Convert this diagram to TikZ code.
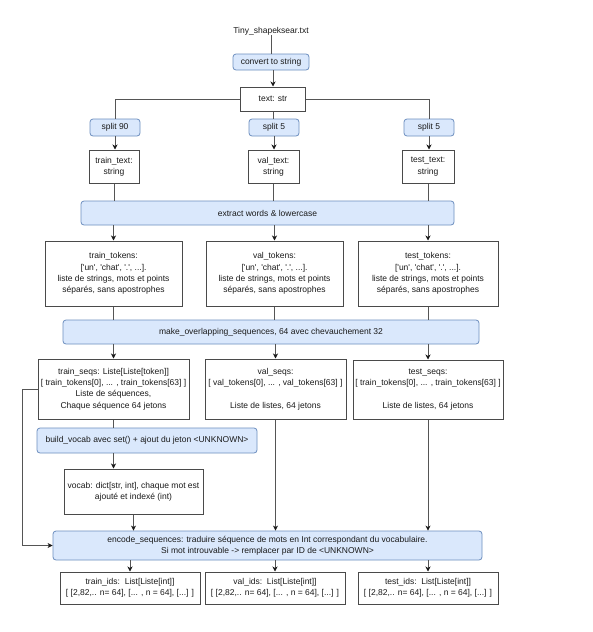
\documentclass[tikz,border=0pt]{standalone}
\usepackage{fontspec}
\setmainfont{Liberation Sans}[Ligatures=TeXOff]
\usetikzlibrary{arrows.meta}
\definecolor{bfill}{HTML}{DAE8FC}
\definecolor{bline}{HTML}{6C8EBF}
\definecolor{dline}{HTML}{4A4A4A}
\definecolor{cline}{HTML}{555555}
\definecolor{tcol}{HTML}{1A1A1A}
\begin{document}
\begin{tikzpicture}[x=1pt,y=-1pt,
 every node/.style={font=\fontsize{8.5}{11.3}\selectfont, inner sep=0pt, align=center, text=tcol},
 proc/.style={draw=bline, fill=bfill, rounded corners=3pt, line width=0.8pt},
 data/.style={draw=dline, line width=1pt, fill=white},
 conn/.style={draw=cline, line width=0.8pt},
 arr/.style={conn, -{Stealth[length=5pt,width=5pt,inset=1.5pt,color=tcol]}}]
\useasboundingbox (0,0) rectangle (592,632);
\fill[white] (0,0) rectangle (592,632);

\node (src) at (271,31) {Tiny\_shapeksear.txt};
\node[proc, minimum width=76, minimum height=16] (conv) at (271,62) {convert to string};
\node[data, minimum width=65, minimum height=24] (text) at (273,99) {text: str};
\node[proc, minimum width=50, minimum height=17] (sp90) at (115,127.5) {split 90};
\node[proc, minimum width=50, minimum height=17] (sp5c) at (274,127.5) {split 5};
\node[proc, minimum width=50, minimum height=17] (sp5r) at (429,127.5) {split 5};
\node[data, minimum width=50, minimum height=33] (trt) at (114,166.5) {train\_text:\\string};
\node[data, minimum width=51, minimum height=33] (vat) at (273.5,166.5) {val\_text:\\string};
\node[data, minimum width=52, minimum height=33] (tet) at (428,166.5) {test\_text:\\string};
\node[proc, minimum width=373, minimum height=24] (ext) at (267.5,213) {extract words \& lowercase};
\node[data, minimum width=137, minimum height=65] (trtok) at (113.5,273.5) {train\_tokens:\\{[}'un', 'chat', '.', ...].\\liste de strings, mots et points\\séparés, sans apostrophes};
\node[data, minimum width=137, minimum height=65] (vatok) at (274.5,273.5) {val\_tokens:\\{[}'un', 'chat', '.', ...].\\liste de strings, mots et points\\séparés, sans apostrophes};
\node[data, minimum width=140, minimum height=65] (tetok) at (428,273.5) {test\_tokens:\\{[}'un', 'chat', '.', ...].\\liste de strings, mots et points\\séparés, sans apostrophes};
\node[proc, minimum width=416, minimum height=24] (make) at (271,332) {make\_overlapping\_sequences, 64 avec chevauchement 32};
\node[data, minimum width=151, minimum height=60] (trseq) at (113.5,389) {train\_seqs: Liste[Liste[token]]\\{[} train\_tokens[0], ... , train\_tokens[63] ]\\Liste de séquences,\\Chaque séquence 64 jetons};
\node[data, minimum width=141, minimum height=60] (vaseq) at (275.5,389) {val\_seqs:\\{[} val\_tokens[0], ... , val\_tokens[63] ]\\ \\Liste de listes, 64 jetons};
\node[data, minimum width=150, minimum height=59] (teseq) at (428,389.5) {test\_seqs:\\{[} train\_tokens[0], ... , train\_tokens[63] ]\\ \\Liste de listes, 64 jetons};
\node[proc, minimum width=220, minimum height=25] (build) at (147,440.5) {build\_vocab avec set() + ajout du jeton <UNKNOWN>};
\node[data, minimum width=139, minimum height=45] (voc) at (133.5,491.5) {vocab: dict[str, int], chaque mot est\\ajouté et indexé (int)};
\node[proc, minimum width=429, minimum height=29] (enc) at (267.5,545.5) {encode\_sequences: traduire séquence de mots en Int correspondant du vocabulaire.\\Si mot introuvable -> remplacer par ID de <UNKNOWN>};
\node[data, minimum width=140, minimum height=32] (trid) at (130,588) {train\_ids:\ \ List[Liste[int]]\\{[} [2,82,.. n= 64], [... , n = 64], [...] ]};
\node[data, minimum width=140, minimum height=32] (vaid) at (275,588) {val\_ids:\ \ List[Liste[int]]\\{[} [2,82,.. n= 64], [... , n = 64], [...] ]};
\node[data, minimum width=140, minimum height=32] (teid) at (428,588) {test\_ids:\ \ List[Liste[int]]\\{[} [2,82,.. n= 64], [... , n = 64], [...] ]};

\draw[conn] (src) -- (conv);
\draw[arr] (conv.south -| text.north) -- (text.north);
\draw[conn] (text.west) -| (sp90.north);
\draw[conn] (text.east) -| (sp5r.north);
\draw[conn] (text.south) -- (text.south |- sp5c.north);
\draw[arr] (sp90.south) -- (sp90.south |- trt.north);
\draw[arr] (sp5c.south) -- (sp5c.south |- vat.north);
\draw[arr] (sp5r.south) -- (sp5r.south |- tet.north);
\draw[conn] (trt.south) -- (trt.south |- ext.north);
\draw[conn] (vat.south) -- (vat.south |- ext.north);
\draw[conn] (tet.south) -- (tet.south |- ext.north);
\draw[arr] (ext.south -| trtok.north) -- (trtok.north);
\draw[arr] (ext.south -| vatok.north) -- (vatok.north);
\draw[arr] (ext.south -| tetok.north) -- (tetok.north);
\draw[conn] (trtok.south) -- (trtok.south |- make.north);
\draw[conn] (vatok.south) -- (vatok.south |- make.north);
\draw[conn] (tetok.south) -- (tetok.south |- make.north);
\draw[arr] (make.south -| trseq.north) -- (trseq.north);
\draw[arr] (make.south -| vaseq.north) -- (vaseq.north);
\draw[arr] (make.south -| teseq.north) -- (teseq.north);
\draw[conn] (trseq.south) -- (trseq.south |- build.north);
\draw[arr] (trseq.west) -- ++(-15,0) |- (enc.west);
\draw[arr] (trseq.south |- build.south) -- (trseq.south |- voc.north);
\draw[arr] (voc.south) -- (voc.south |- enc.north);
\draw[arr] (vaseq.south) -- (vaseq.south |- enc.north);
\draw[arr] (teseq.south) -- (teseq.south |- enc.north);
\draw[arr] (enc.south -| trid.north) -- (trid.north);
\draw[arr] (enc.south -| vaid.north) -- (vaid.north);
\draw[arr] (enc.south -| teid.north) -- (teid.north);
\end{tikzpicture}
\end{document}
